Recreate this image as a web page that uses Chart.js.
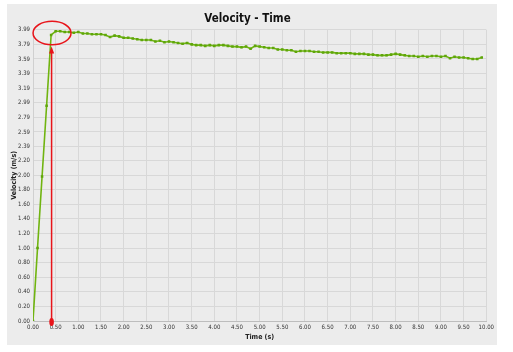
<!DOCTYPE html>
<html>
<head>
<meta charset="utf-8">
<script src="https://cdn.jsdelivr.net/npm/chart.js@4"></script>
<style>
  html,body{margin:0;padding:0;background:#ffffff;}
  #panel{position:absolute;left:7px;top:4px;width:490px;height:341px;background:#ececec;}
  canvas{display:block;}
</style>
</head>
<body>
<div id="panel"><canvas id="c"></canvas></div>
<script>
const times = [0.0,0.1,0.2,0.3,0.4,0.5,0.6,0.7,0.8,0.9,
  1.0,1.1,1.2,1.3,1.4,1.5,1.6,1.7,1.8,1.9,
  2.0,2.1,2.2,2.3,2.4,2.5,2.6,2.7,2.8,2.9,
  3.0,3.1,3.2,3.3,3.4,3.5,3.6,3.7,3.8,3.9,
  4.0,4.1,4.2,4.3,4.4,4.5,4.6,4.7,4.8,4.9,
  5.0,5.1,5.2,5.3,5.4,5.5,5.6,5.7,5.8,5.9,
  6.0,6.1,6.2,6.3,6.4,6.5,6.6,6.7,6.8,6.9,
  7.0,7.1,7.2,7.3,7.4,7.5,7.6,7.7,7.8,7.9,
  8.0,8.1,8.2,8.3,8.4,8.5,8.6,8.7,8.8,8.9,
  9.0,9.1,9.2,9.3,9.4,9.5,9.6,9.7,9.8,9.9];
const velocity = [0.00,1.00,1.98,2.95,3.92,3.97,3.97,3.96,3.96,3.95,
  3.96,3.94,3.94,3.93,3.93,3.93,3.92,3.89,3.91,3.90,
  3.88,3.88,3.87,3.86,3.85,3.85,3.85,3.83,3.84,3.82,
  3.83,3.82,3.81,3.80,3.81,3.79,3.78,3.78,3.77,3.78,
  3.77,3.78,3.78,3.77,3.76,3.76,3.75,3.76,3.73,3.77,
  3.76,3.75,3.74,3.74,3.72,3.72,3.71,3.71,3.69,3.70,
  3.70,3.70,3.69,3.69,3.68,3.68,3.68,3.67,3.67,3.67,
  3.67,3.66,3.66,3.66,3.65,3.65,3.64,3.64,3.64,3.65,
  3.66,3.65,3.64,3.63,3.63,3.62,3.63,3.62,3.63,3.63,
  3.62,3.63,3.60,3.62,3.61,3.61,3.60,3.59,3.59,3.61];
const yTickLabels = ['0.00','0.20','0.40','0.60','0.80','1.00','1.20','1.40','1.60','1.80',
  '2.00','2.20','2.39','2.59','2.79','2.99','3.19','3.39','3.59','3.79','3.99'];
const xTickLabels = ['0.00','0.50','1.00','1.50','2.00','2.50','3.00','3.50','4.00','4.50',
  '5.00','5.50','6.00','6.50','7.00','7.50','8.00','8.50','9.00','9.50','10.00'];
const markerTime = 0.41;
const chartTitle = 'Velocity - Time';
const xTitle = 'Time (s)';
const yTitle = 'Velocity (m/s)';

const narrow = "'Liberation Sans Narrow','DejaVu Sans Condensed','Liberation Sans',sans-serif";

const annotate = {
  id: 'annotate',
  afterDraw(chart) {
    const {ctx, scales:{x, y}} = chart;
    const px = x.getPixelForValue(markerTime);
    ctx.save();
    ctx.strokeStyle = '#e8141a';
    ctx.fillStyle = '#e8141a';
    ctx.lineWidth = 1.5;
    ctx.beginPath();
    ctx.ellipse(x.getPixelForValue(0.42), y.getPixelForValue(3.946), 19, 11.7, 0, 0, Math.PI*2);
    ctx.stroke();
    const topY = y.getPixelForValue(3.76);
    const botY = y.getPixelForValue(0);
    ctx.beginPath();
    ctx.moveTo(px, topY + 5);
    ctx.lineTo(px, botY);
    ctx.stroke();
    ctx.beginPath();
    ctx.moveTo(px, topY);
    ctx.lineTo(px - 2.6, topY + 7);
    ctx.lineTo(px + 2.6, topY + 7);
    ctx.closePath();
    ctx.fill();
    ctx.beginPath();
    ctx.ellipse(px, botY + 1, 2.3, 4, 0, 0, Math.PI*2);
    ctx.fill();
    ctx.restore();
  }
};

new Chart(document.getElementById('c'), {
  type: 'line',
  data: {
    datasets: [{
      data: times.map((t, i) => ({x: t, y: velocity[i]})),
      borderColor: '#70b410',
      backgroundColor: '#5ea60a',
      borderWidth: 1.6,
      pointStyle: 'rect',
      pointRadius: 1.8,
      pointBorderWidth: 0,
      tension: 0,
      fill: false
    }]
  },
  options: {
    responsive: true,
    maintainAspectRatio: false,
    animation: false,
    layout: {padding: {left: 0, right: 9, top: 0, bottom: 0}},
    plugins: {
      legend: {display: false},
      tooltip: {enabled: false},
      title: {
        display: true,
        text: chartTitle,
        color: '#111111',
        font: {family: narrow, size: 11.5, weight: 'bold'},
        padding: {top: 8, bottom: 4}
      }
    },
    scales: {
      x: {
        type: 'linear',
        min: 0, max: 10,
        afterBuildTicks(s) { s.ticks = xTickLabels.map(v => ({value: parseFloat(v)})); },
        afterFit(s) { s.height = 24; },
        ticks: {
          autoSkip: false, maxRotation: 0, padding: 3,
          color: '#333333',
          font: {family: narrow, size: 6},
          callback: (v, i) => xTickLabels[i]
        },
        grid: {color: '#d8d8d8', lineWidth: 1, drawTicks: false},
        border: {color: '#bdbdbd'},
        title: {
          display: true, text: xTitle, color: '#222222',
          font: {family: narrow, size: 7, weight: 'bold'},
          padding: {top: 0, bottom: 4}
        }
      },
      y: {
        type: 'linear',
        min: 0, max: 3.99,
        afterBuildTicks(s) { s.ticks = yTickLabels.map(v => ({value: parseFloat(v)})); },
        afterFit(s) { s.width = 26; },
        ticks: {
          autoSkip: false, padding: 3,
          color: '#333333',
          font: {family: narrow, size: 6},
          callback: (v, i) => yTickLabels[i]
        },
        grid: {color: '#d8d8d8', lineWidth: 1, drawTicks: false},
        border: {color: '#d0d0d0'},
        title: {
          display: true, text: yTitle, color: '#222222',
          font: {family: narrow, size: 7, weight: 'bold'},
          padding: {top: 3, bottom: 0}
        }
      }
    }
  },
  plugins: [annotate]
});
</script>
</body>
</html>
